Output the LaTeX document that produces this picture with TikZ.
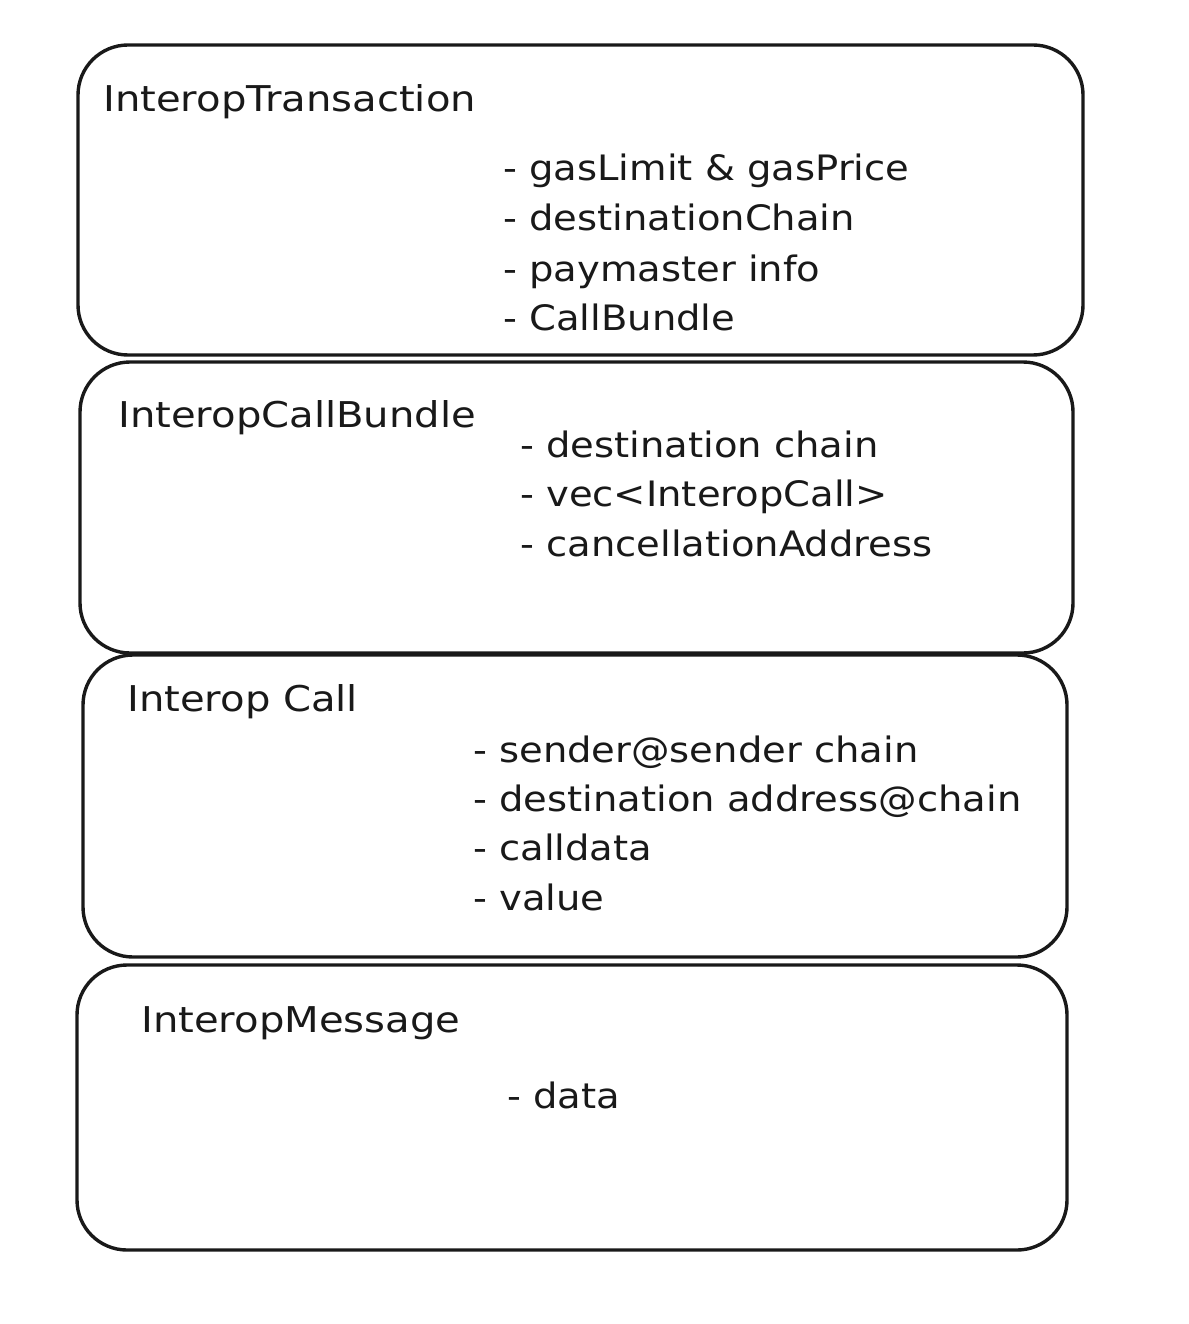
\documentclass[tikz,border=0pt]{standalone}
\usepackage{fontspec}
\setmainfont{DejaVu Sans}
\newfontfamily\handfont[FakeStretch=1.1]{DejaVu Sans}
\newfontfamily\titlefont[FakeStretch=1.13]{DejaVu Sans}
\begin{document}
\begin{tikzpicture}[x=1pt,y=-1pt,
  box/.style={draw=black!90, line width=3.4pt, rounded corners=50pt, inner sep=0pt},
  lbl/.style={anchor=base west, inner sep=0pt, text=black!90, font=\handfont\fontsize{35}{40}\selectfont},
  ttl/.style={lbl, font=\titlefont\fontsize{35.5}{40}\selectfont}]
\useasboundingbox[fill=white] (0,0) rectangle (1188,1324);
% boxes
\node[box, minimum width=1005pt, minimum height=310pt] (b1) at (580.5,200) {};
\node[box, minimum width=993pt, minimum height=291pt] (b2) at (576.5,507.5) {};
\node[box, minimum width=984pt, minimum height=302pt] (b3) at (575,806) {};
\node[box, minimum width=990pt, minimum height=285pt] (b4) at (572,1107.5) {};
% box 1
\node[ttl] (t1) at (103,112) {InteropTransaction};
\node[lbl] (i11) at (503,181) {- gasLimit \& gasPrice};
\node[lbl] (i12) at (503,231) {- destinationChain};
\node[lbl] (i13) at (503,281) {- paymaster info};
\node[lbl] (i14) at (503,330) {- CallBundle};
% box 2
\node[ttl] (t2) at (118,427) {InteropCallBundle};
\node[lbl] (i21) at (520,457) {- destination chain};
\node[lbl] (i22) at (520,506) {- vec<InteropCall>};
\node[lbl] (i23) at (520,556) {- cancellationAddress};
% box 3
\node[ttl] (t3) at (127,711) {Interop Call};
\node[lbl] (i31) at (473,762) {- sender@sender chain};
\node[lbl] (i32) at (473,811) {- destination address@chain};
\node[lbl] (i33) at (473,860) {- calldata};
\node[lbl] (i34) at (473,910) {- value};
% box 4
\node[ttl] (t4) at (141,1032) {InteropMessage};
\node[lbl] (i41) at (507,1108) {- data};
\end{tikzpicture}
\end{document}
